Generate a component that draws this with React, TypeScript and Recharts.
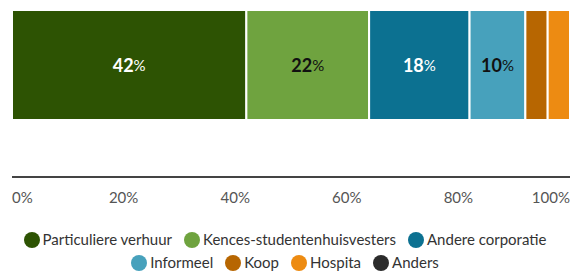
import React from "react";
import { BarChart, Bar, XAxis, YAxis, LabelList } from "recharts";

const categories = [
  "Particuliere verhuur",
  "Kences-studentenhuisvesters",
  "Andere corporatie",
  "Informeel",
  "Koop",
  "Hospita",
  "Anders",
];
const shares = [42, 22, 18, 10, 4, 4, 0];
const colors = ["#2d5303", "#6fa33f", "#0c7191", "#47a1bc", "#b76601", "#ed8b12", "#2b2b2b"];
const labelColors = ["#fff", "#111", "#fff", "#111", "#fff", "#111", "#fff"];
const ticks = [0, 20, 40, 60, 80, 100];

const row: Record<string, string | number> = { name: "aandeel" };
categories.forEach((_, i) => {
  row[`s${i}`] = shares[i];
});
const data = [row];

const FONT = "Lato, 'Noto Sans', sans-serif";

const AxisTick = (props: any) => {
  const { x, y, payload, index } = props;
  const anchor = index === 0 ? "start" : index === ticks.length - 1 ? "end" : "middle";
  return (
    <text x={x} y={y} dy={18} textAnchor={anchor} fill="#555" fontSize={15} fontFamily={FONT}>
      {payload.value}%
    </text>
  );
};

const makeLabel = (color: string) => (props: any) => {
  const { x, y, width, height, value } = props;
  if (!value || value < 8) return null;
  return (
    <text
      x={x + width / 2}
      y={y + height / 2}
      textAnchor="middle"
      dominantBaseline="central"
      fill={color}
      fontFamily={FONT}
    >
      <tspan fontSize={18} fontWeight={700}>{value}</tspan>
      <tspan fontSize={15}>%</tspan>
    </text>
  );
};

const App = () => {
  return (
    <div style={{ position: "absolute", left: 0, top: 0, width: 570, height: 272, fontFamily: FONT }}>
      <BarChart
        width={570}
        height={207}
        data={data}
        layout="vertical"
        barCategoryGap={0}
        margin={{ top: 10, right: 0, bottom: 0, left: 12 }}
      >
        <YAxis type="category" dataKey="name" hide padding={{ top: 0, bottom: 57 }} />
        <XAxis
          type="number"
          domain={[0, 100]}
          ticks={ticks}
          interval={0}
          tickLine={false}
          axisLine={{ stroke: "#444", strokeWidth: 2 }}
          tick={<AxisTick />}
          height={30}
        />
        {categories.map((c, i) => (
          <Bar
            key={c}
            dataKey={`s${i}`}
            name={c}
            stackId="a"
            fill={colors[i]}
            stroke="#fff"
            strokeWidth={2}
            isAnimationActive={false}
          >
            <LabelList dataKey={`s${i}`} content={makeLabel(labelColors[i])} />
          </Bar>
        ))}
      </BarChart>
      <div
        style={{
          position: "absolute",
          top: 230,
          left: 20,
          width: 530,
          display: "flex",
          flexWrap: "wrap",
          justifyContent: "center",
          rowGap: 4,
          columnGap: 12,
          fontSize: 15,
          color: "#333",
        }}
      >
        {categories.map((c, i) => (
          <span key={c} style={{ display: "flex", alignItems: "center", lineHeight: "19px" }}>
            <span
              style={{
                width: 16,
                height: 16,
                borderRadius: "50%",
                background: colors[i],
                marginRight: 3,
                display: "inline-block",
              }}
            />
            {c}
          </span>
        ))}
      </div>
    </div>
  );
};

export default App;
